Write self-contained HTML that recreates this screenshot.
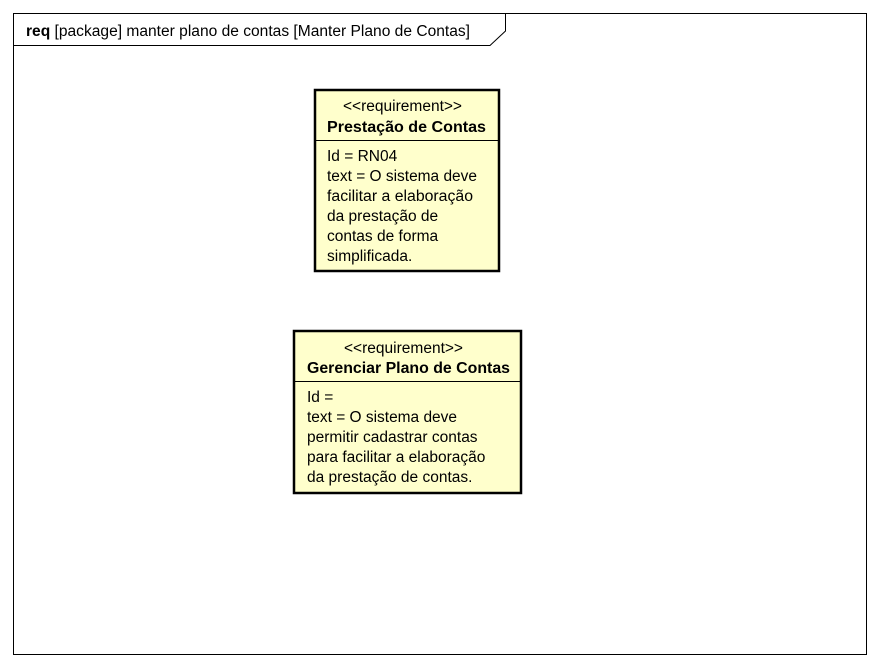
<!DOCTYPE html>
<html><head><style>body{margin:0;background:#fff}svg{display:block}text{font-family:"Liberation Sans",sans-serif;font-size:15.5px;fill:#000}</style></head><body>
<svg width="880" height="666" xmlns="http://www.w3.org/2000/svg">
<rect x="13.5" y="13.5" width="853" height="641" fill="#fff" stroke="#000" stroke-width="1"/>
<path d="M13.5 45.5 H490 L505.5 31 V13.5" fill="none" stroke="#000"/>
<text x="26" y="36" textLength="444" lengthAdjust="spacingAndGlyphs"><tspan font-weight="bold">req</tspan> [package] manter plano de contas [Manter Plano de Contas]</text>
<rect x="315" y="90" width="184" height="181" fill="#ffffcc" stroke="#000" stroke-width="2.5"/>
<line x1="315" y1="140.5" x2="499" y2="140.5" stroke="#000"/>
<text x="343" y="111" textLength="119" lengthAdjust="spacingAndGlyphs">&lt;&lt;requirement&gt;&gt;</text>
<text x="327" y="132" font-weight="bold" textLength="159" lengthAdjust="spacingAndGlyphs">Prestação de Contas</text>
<text x="327" y="161">Id = RN04</text>
<text x="327" y="181" textLength="150" lengthAdjust="spacingAndGlyphs">text = O sistema deve</text>
<text x="327" y="201" textLength="146" lengthAdjust="spacingAndGlyphs">facilitar a elaboração</text>
<text x="327" y="221">da prestação de</text>
<text x="327" y="241">contas de forma</text>
<text x="327" y="261">simplificada.</text>
<rect x="294" y="331" width="227" height="162" fill="#ffffcc" stroke="#000" stroke-width="2.5"/>
<line x1="294" y1="381.5" x2="521" y2="381.5" stroke="#000"/>
<text x="344" y="353" textLength="119" lengthAdjust="spacingAndGlyphs">&lt;&lt;requirement&gt;&gt;</text>
<text x="307" y="373" font-weight="bold" textLength="203" lengthAdjust="spacingAndGlyphs">Gerenciar Plano de Contas</text>
<text x="307" y="402">Id =</text>
<text x="307" y="422" textLength="150" lengthAdjust="spacingAndGlyphs">text = O sistema deve</text>
<text x="307" y="442">permitir cadastrar contas</text>
<text x="307" y="462">para facilitar a elaboração</text>
<text x="307" y="482">da prestação de contas.</text>
</svg>
</body></html>
